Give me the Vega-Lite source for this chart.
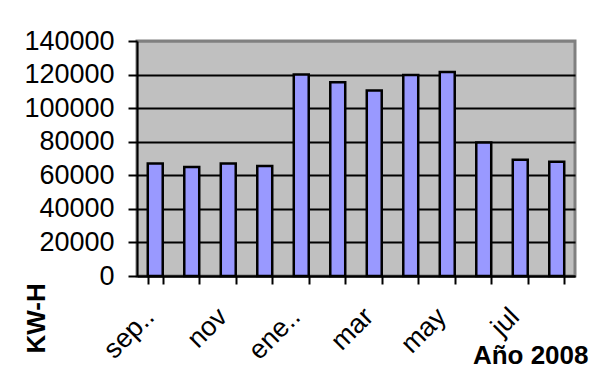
{
  "$schema": "https://vega.github.io/schema/vega-lite/v6.json",
  "width": 438,
  "height": 235,
  "autosize": {"type": "none"},
  "padding": {"left": 137, "top": 41, "right": 17, "bottom": 105},
  "background": "white",
  "data": {
    "values": [
      {"mes": "sep..", "kwh": 67000},
      {"mes": "oct", "kwh": 65000},
      {"mes": "nov", "kwh": 67000},
      {"mes": "dic", "kwh": 65500},
      {"mes": "ene..", "kwh": 120000},
      {"mes": "feb", "kwh": 115500},
      {"mes": "mar", "kwh": 110500},
      {"mes": "abr", "kwh": 119800},
      {"mes": "may", "kwh": 121500},
      {"mes": "jun", "kwh": 79500},
      {"mes": "jul", "kwh": 69300},
      {"mes": "ago", "kwh": 68000}
    ]
  },
  "mark": {"type": "bar", "fill": "#9999FF", "stroke": "black", "strokeWidth": 2.5},
  "encoding": {
    "x": {
      "field": "mes",
      "type": "nominal",
      "sort": null,
      "scale": {"paddingInner": 0.59, "paddingOuter": 0.295},
      "axis": {
        "title": "Año 2008",
        "titleFontSize": 26,
        "titleFontWeight": "bold",
        "titleColor": "black",
        "titleX": 451,
        "titleY": 87,
        "titleAlign": "right",
        "titleBaseline": "alphabetic",
        "labelAngle": -45,
        "labelAlign": "right",
        "labelBaseline": "alphabetic",
        "labelFontSize": 27,
        "labelColor": "black",
        "labelPadding": 34,
        "labelOverlap": false,
        "labelFlush": false,
        "labelBound": false,
        "labelExpr": "indexof(['sep..', 'nov', 'ene..', 'mar', 'may', 'jul'], datum.value) >= 0 ? datum.value : ''",
        "tickBand": "extent",
        "tickSize": 8,
        "tickWidth": 2,
        "tickColor": "black",
        "domainColor": "black",
        "domainWidth": 2,
        "grid": false
      }
    },
    "y": {
      "field": "kwh",
      "type": "quantitative",
      "scale": {"domain": [0, 140000], "nice": false},
      "axis": {
        "title": "KW-H",
        "titleFontSize": 26,
        "titleFontWeight": "bold",
        "titleColor": "black",
        "titleAngle": 270,
        "titleX": -101,
        "titleY": 312,
        "titleAlign": "left",
        "titleBaseline": "middle",
        "values": [0, 20000, 40000, 60000, 80000, 100000, 120000, 140000],
        "format": "d",
        "labelFontSize": 27,
        "labelColor": "black",
        "labelPadding": 14,
        "tickSize": 9,
        "tickWidth": 2,
        "tickColor": "black",
        "domainColor": "black",
        "domainWidth": 2,
        "gridColor": {"condition": {"test": "datum.value >= 140000", "value": "#808080"}, "value": "black"},
        "gridWidth": 2
      }
    }
  },
  "config": {
    "font": "Liberation Sans",
    "view": {"fill": "#C0C0C0", "stroke": "#808080", "strokeWidth": 3}
  }
}
